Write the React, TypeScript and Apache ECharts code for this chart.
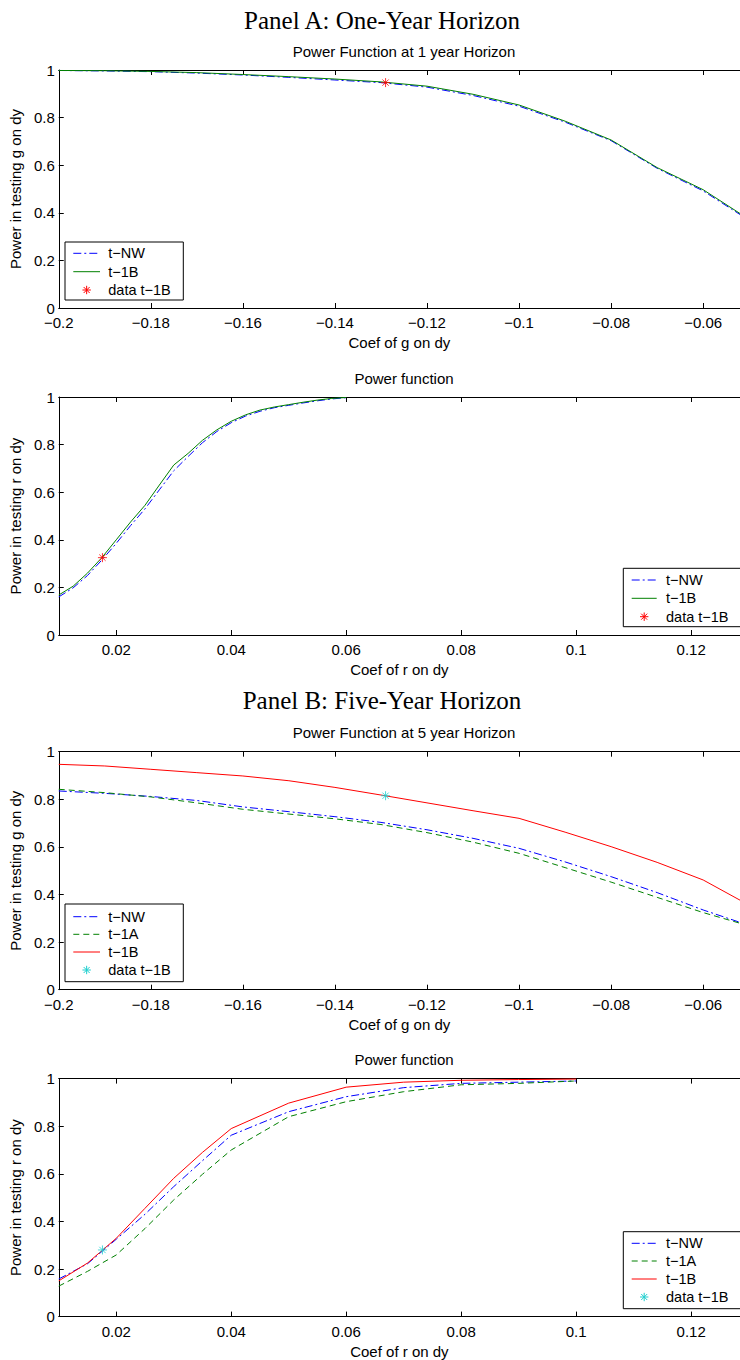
import React, { useEffect, useRef } from "react";
import * as echarts from "echarts";

// ---------- data ----------
const gCoef = [-0.2, -0.19, -0.18, -0.17, -0.16, -0.15, -0.14, -0.13, -0.12, -0.11, -0.1, -0.09, -0.08, -0.07, -0.06, -0.05];
const oneYearG_tNW = [0.998, 0.996, 0.993, 0.987, 0.979, 0.969, 0.958, 0.947, 0.928, 0.893, 0.848, 0.781, 0.703, 0.587, 0.492, 0.368];
const oneYearG_t1B = [0.998, 0.997, 0.994, 0.989, 0.981, 0.972, 0.962, 0.95, 0.932, 0.898, 0.853, 0.785, 0.706, 0.59, 0.497, 0.372];

const rCoef1 = [0.01, 0.0125, 0.015, 0.0175, 0.02, 0.0225, 0.025, 0.0275, 0.03, 0.0325, 0.035, 0.0375, 0.04, 0.0425, 0.045, 0.0475, 0.05, 0.0525, 0.055, 0.0575, 0.06];
const oneYearR_tNW = [0.16, 0.198, 0.25, 0.315, 0.385, 0.46, 0.53, 0.61, 0.69, 0.75, 0.808, 0.855, 0.892, 0.92, 0.94, 0.955, 0.965, 0.975, 0.984, 0.992, 0.997];
const oneYearR_t1B = [0.168, 0.205, 0.26, 0.325, 0.4, 0.475, 0.545, 0.63, 0.714, 0.763, 0.818, 0.862, 0.898, 0.925, 0.945, 0.958, 0.968, 0.978, 0.987, 0.994, 0.998];

const fiveYearG_tNW = [0.835, 0.825, 0.812, 0.795, 0.768, 0.748, 0.727, 0.703, 0.672, 0.636, 0.594, 0.537, 0.475, 0.408, 0.335, 0.27];
const fiveYearG_t1A = [0.842, 0.828, 0.81, 0.785, 0.758, 0.738, 0.718, 0.694, 0.66, 0.62, 0.573, 0.513, 0.452, 0.388, 0.324, 0.268];
const fiveYearG_t1B = [0.947, 0.94, 0.926, 0.912, 0.898, 0.878, 0.85, 0.818, 0.785, 0.752, 0.72, 0.662, 0.601, 0.535, 0.461, 0.355];

const rCoef5 = [0.01, 0.015, 0.02, 0.025, 0.03, 0.035, 0.04, 0.05, 0.06, 0.07, 0.08, 0.09, 0.1];
const fiveYearR_tNW = [0.158, 0.222, 0.325, 0.43, 0.546, 0.655, 0.762, 0.861, 0.924, 0.962, 0.98, 0.985, 0.99];
const fiveYearR_t1A = [0.128, 0.19, 0.259, 0.37, 0.49, 0.598, 0.7, 0.84, 0.903, 0.945, 0.974, 0.98, 0.99];
const fiveYearR_t1B = [0.15, 0.225, 0.329, 0.455, 0.581, 0.69, 0.79, 0.897, 0.964, 0.985, 0.993, 0.996, 0.998];

const dataPoint1G = [-0.129, 0.947];
const dataPoint1R = [0.0176, 0.325];
const dataPoint5G = [-0.129, 0.815];
const dataPoint5R = [0.0176, 0.28];

const panelTitles = ["Panel A: One-Year Horizon", "Panel B: Five-Year Horizon"];
const chartTitles = ["Power Function at 1 year Horizon", "Power function", "Power Function at 5 year Horizon", "Power function"];
const xNames = ["Coef of g on dy", "Coef of r on dy", "Coef of g on dy", "Coef of r on dy"];
const yNames = ["Power in testing g on dy", "Power in testing r on dy", "Power in testing g on dy", "Power in testing r on dy"];
const legendLabels1 = ["t\u2212NW", "t\u22121B", "data t\u22121B"];
const legendLabels5 = ["t\u2212NW", "t\u22121A", "t\u22121B", "data t\u22121B"];

// ---------- styling / layout ----------
const FONT = '"Liberation Sans", Arial, Helvetica, sans-serif';
const SERIF = '"Liberation Serif", "Times New Roman", serif';
const BLUE = "#0000ff";
const GREEN = "#008000";
const RED = "#ff0000";
const CYAN = "#1fcfcf";
const DASHDOT = [8, 3, 2, 3];
const DASH = [6, 4];
const STAR = "path://M0,-5L0,5M-5,0L5,0M-3.5,-3.5L3.5,3.5M-3.5,3.5L3.5,-3.5";

const GL = 57.5;
const GH = 238;
const TOPS = [70, 397, 751.7, 1078.6];
const G_MIN = -0.2;
const G_MAX = -0.052;
const R_MIN = 0.01;
const R_MAX = 0.1285;

const zip = (xs: number[], ys: number[]) => xs.map((x, i) => [x, ys[i]]);

const fmtTick = (v: number) => {
  const q = v / 0.02;
  if (Math.abs(q - Math.round(q)) > 1e-6) return "";
  const r = Math.round(v * 100) / 100;
  return (r < 0 ? "\u2212" : "") + String(Math.abs(r));
};
const fmtY = (v: number) => String(Math.round(v * 10) / 10);

function lineSeries(idx: number, name: string, xs: number[], ys: number[], color: string, type: any) {
  return {
    type: "line",
    name,
    xAxisIndex: idx * 2,
    yAxisIndex: idx,
    data: zip(xs, ys),
    symbol: "none",
    showSymbol: false,
    clip: true,
    silent: true,
    z: 2,
    lineStyle: { color, width: 1, type },
  };
}

function starSeries(idx: number, pt: number[], color: string) {
  return {
    type: "scatter",
    name: "data t-1B",
    xAxisIndex: idx * 2,
    yAxisIndex: idx,
    data: [pt],
    symbol: STAR,
    symbolSize: 9,
    silent: true,
    z: 10,
    itemStyle: { color: "rgba(0,0,0,0)", borderColor: color, borderWidth: 1 },
  };
}

type Entry = { label: string; kind: "line" | "star"; color: string; dash?: number[] | null };

function legendElements(bx: number, by: number, bw: number, bh: number, rows: number[], lx1: number, lx2: number, tx: number, entries: Entry[]) {
  const els: any[] = [
    { type: "rect", shape: { x: bx, y: by, width: bw, height: bh }, style: { fill: "#fff", stroke: "#000", lineWidth: 1 }, z: 100 },
  ];
  entries.forEach((e, i) => {
    const y = rows[i];
    if (e.kind === "line") {
      els.push({
        type: "line",
        shape: { x1: lx1, y1: y, x2: lx2, y2: y },
        style: { stroke: e.color, lineWidth: 1, lineDash: e.dash || null },
        z: 101,
      });
    } else {
      const cx = (lx1 + lx2) / 2;
      const r = 4.2;
      const d = 3;
      [
        [0, -r, 0, r],
        [-r, 0, r, 0],
        [-d, -d, d, d],
        [-d, d, d, -d],
      ].forEach((s) =>
        els.push({
          type: "line",
          shape: { x1: cx + s[0], y1: y + s[1], x2: cx + s[2], y2: y + s[3] },
          style: { stroke: e.color, lineWidth: 1 },
          z: 101,
        })
      );
    }
    els.push({
      type: "text",
      x: tx,
      y,
      style: {
        text: e.label,
        fill: "#000",
        font: `14.5px ${FONT}`,
        align: "left",
        textAlign: "left",
        verticalAlign: "middle",
        textVerticalAlign: "middle",
      },
      z: 101,
    });
  });
  return els;
}

function textEl(text: string, x: number, y: number, font: string) {
  return {
    type: "text",
    x,
    y,
    style: {
      text,
      fill: "#000",
      font,
      align: "center",
      textAlign: "center",
      verticalAlign: "middle",
      textVerticalAlign: "middle",
    },
  };
}

function buildOption() {
  const grids = TOPS.map((t) => ({ left: GL, top: t, right: 0, height: GH, containLabel: false }));
  const xAxes: any[] = [];
  const yAxes: any[] = [];
  TOPS.forEach((_, i) => {
    const isG = i % 2 === 0;
    const common: any = {
      type: "value",
      gridIndex: i,
      min: isG ? G_MIN : R_MIN,
      max: isG ? G_MAX : R_MAX,
      splitLine: { show: false },
      axisLine: { show: true, onZero: false, lineStyle: { color: "#000", width: 1 } },
      axisTick: { show: true, inside: true, length: 5, lineStyle: { color: "#000", width: 1 } },
    };
    if (isG) common.interval = 0.02;
    else {
      common.splitNumber = 6;
      common.minInterval = 0.02;
      common.maxInterval = 0.02;
    }
    xAxes.push({
      ...common,
      position: "bottom",
      axisLabel: {
        show: true,
        margin: 7,
        color: "#000",
        fontSize: 15,
        fontFamily: FONT,
        formatter: fmtTick,
        showMinLabel: isG,
        showMaxLabel: false,
      },
      name: xNames[i],
      nameLocation: "middle",
      nameGap: 27,
      nameTextStyle: { color: "#000", fontSize: 15, fontFamily: FONT },
    });
    xAxes.push({ ...common, position: "top", axisLabel: { show: false } });
    yAxes.push({
      type: "value",
      gridIndex: i,
      min: 0,
      max: 1,
      interval: 0.2,
      position: "left",
      splitLine: { show: false },
      axisLine: { show: true, onZero: false, lineStyle: { color: "#000", width: 1 } },
      axisTick: { show: true, inside: true, length: 5, lineStyle: { color: "#000", width: 1 } },
      axisLabel: { show: true, margin: 4, color: "#000", fontSize: 15, fontFamily: FONT, formatter: fmtY },
      name: yNames[i],
      nameLocation: "middle",
      nameGap: 32,
      nameRotate: 90,
      nameTextStyle: { color: "#000", fontSize: 15, fontFamily: FONT },
    });
  });

  const series: any[] = [
    lineSeries(0, "t-NW", gCoef, oneYearG_tNW, BLUE, DASHDOT),
    lineSeries(0, "t-1B", gCoef, oneYearG_t1B, GREEN, "solid"),
    starSeries(0, dataPoint1G, RED),
    lineSeries(1, "t-NW", rCoef1, oneYearR_tNW, BLUE, DASHDOT),
    lineSeries(1, "t-1B", rCoef1, oneYearR_t1B, GREEN, "solid"),
    starSeries(1, dataPoint1R, RED),
    lineSeries(2, "t-NW", gCoef, fiveYearG_tNW, BLUE, DASHDOT),
    lineSeries(2, "t-1A", gCoef, fiveYearG_t1A, GREEN, DASH),
    lineSeries(2, "t-1B", gCoef, fiveYearG_t1B, RED, "solid"),
    starSeries(2, dataPoint5G, CYAN),
    lineSeries(3, "t-NW", rCoef5, fiveYearR_tNW, BLUE, DASHDOT),
    lineSeries(3, "t-1A", rCoef5, fiveYearR_t1A, GREEN, DASH),
    lineSeries(3, "t-1B", rCoef5, fiveYearR_t1B, RED, "solid"),
    starSeries(3, dataPoint5R, CYAN),
  ];

  const e1: Entry[] = [
    { label: legendLabels1[0], kind: "line", color: BLUE, dash: DASHDOT },
    { label: legendLabels1[1], kind: "line", color: GREEN },
    { label: legendLabels1[2], kind: "star", color: RED },
  ];
  const e5: Entry[] = [
    { label: legendLabels5[0], kind: "line", color: BLUE, dash: DASHDOT },
    { label: legendLabels5[1], kind: "line", color: GREEN, dash: DASH },
    { label: legendLabels5[2], kind: "line", color: RED },
    { label: legendLabels5[3], kind: "star", color: CYAN },
  ];

  const graphics: any[] = [
    textEl(panelTitles[0], 382, 20, `25px ${SERIF}`),
    textEl(panelTitles[1], 382, 700, `25px ${SERIF}`),
    ...TOPS.map((t, i) => textEl(chartTitles[i], 404, t - 19, `15px ${FONT}`)),
    ...legendElements(65, 242, 118.3, 58, [253.3, 271.7, 290], 73.3, 100, 108.3, e1),
    ...legendElements(623.3, 568.3, 130, 58.4, [580, 598.3, 616.7], 631.7, 656.7, 666, e1),
    ...legendElements(65, 904, 118.3, 77.7, [916.7, 934.3, 952, 970], 73.3, 100, 108.3, e5),
    ...legendElements(623.3, 1231.7, 130, 77, [1243.3, 1261, 1279, 1297], 631.7, 656.7, 666, e5),
  ];

  return {
    animation: false,
    backgroundColor: "#fff",
    grid: grids,
    xAxis: xAxes,
    yAxis: yAxes,
    series,
    graphic: { elements: graphics },
  };
}

export default function App() {
  const ref = useRef<HTMLDivElement>(null);
  useEffect(() => {
    if (!ref.current) return;
    const chart = echarts.init(ref.current, undefined, { renderer: "svg" });
    chart.setOption(buildOption() as any);
    return () => chart.dispose();
  }, []);
  return (
    <div
      ref={ref}
      style={{ position: "absolute", left: 0, top: 0, width: 740, height: 1360, background: "#fff" }}
    />
  );
}
